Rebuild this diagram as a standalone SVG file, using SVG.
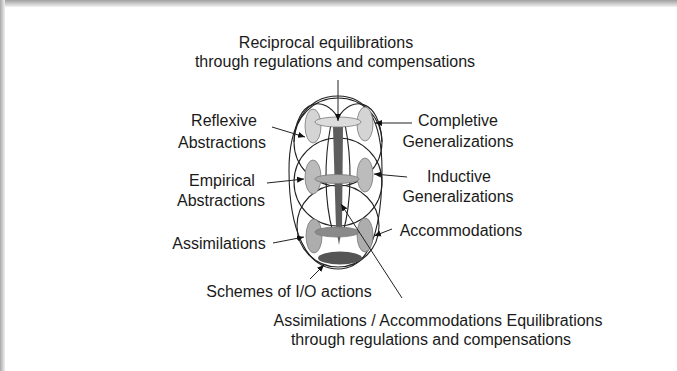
<svg xmlns="http://www.w3.org/2000/svg" width="677" height="371" viewBox="0 0 677 371">
<defs>
<linearGradient id="gTop" x1="0" y1="0" x2="0" y2="1"><stop offset="0" stop-color="#a0a0a0"/><stop offset="1" stop-color="#f2f2f2"/></linearGradient>
<linearGradient id="gLeft" x1="0" y1="0" x2="1" y2="0"><stop offset="0" stop-color="#a8a8a8"/><stop offset="1" stop-color="#f0f0f0"/></linearGradient>
<marker id="ah" markerWidth="8" markerHeight="8" refX="7" refY="4" orient="auto" markerUnits="userSpaceOnUse"><path d="M0,1 L7,4 L0,7 Z" fill="#111"/></marker>
<style>
text{font-family:"Liberation Sans",Arial,sans-serif;font-size:16px;fill:#1a1a1a;text-anchor:middle}
.ln{fill:none;stroke:#222;stroke-width:1.1}
.ar{fill:none;stroke:#222;stroke-width:1;marker-end:url(#ah)}
.e{stroke:#777;stroke-width:0.8}
</style>
</defs>
<rect width="677" height="371" fill="#fff"/>
<rect x="0" y="0" width="677" height="7" fill="url(#gTop)"/>
<rect x="0" y="0" width="5" height="371" fill="url(#gLeft)"/>

<g id="structure">
<path class="ln" d="M338,96 C370,96 382,125 382,170 C382,230 370,269 338,269 C306,269 289,230 289,170 C289,125 306,96 338,96 Z"/>
<circle class="ln" cx="338" cy="142" r="44"/>
<circle class="ln" cx="338" cy="182" r="44"/>
<circle class="ln" cx="338" cy="226" r="41"/>
<path class="ln" d="M338,118 C325,95 296,98 294,142"/>
<path class="ln" d="M338,118 C351,95 380,98 382,142"/>
<path class="ln" d="M331,124 C324,160 324,200 333,233"/>
<path class="ln" d="M345,124 C352,160 352,200 343,233"/>
</g>

<g id="side-ellipses">
<ellipse class="e" cx="313" cy="126" rx="8" ry="17" fill="#d4d4d4"/>
<ellipse class="e" cx="365" cy="124" rx="8" ry="17" fill="#d4d4d4"/>
<ellipse class="e" cx="313" cy="177" rx="8" ry="17" fill="#bcbcbc"/>
<ellipse class="e" cx="365" cy="175" rx="8" ry="17" fill="#bcbcbc"/>
<ellipse class="e" cx="314" cy="236" rx="8" ry="17" fill="#adadad"/>
<ellipse class="e" cx="365" cy="235" rx="8" ry="17" fill="#adadad"/>
</g>

<g id="axis">
<path d="M333,127 L343,127 L342,228 L339,245 L336,228 Z" fill="#5e5e5e"/>
<ellipse class="e" cx="338" cy="122" rx="23" ry="5" fill="#dcdcdc"/>
<ellipse class="e" cx="337" cy="179" rx="22" ry="4.5" fill="#ababab"/>
<ellipse class="e" cx="337" cy="232" rx="22" ry="5" fill="#8a8a8a"/>
<ellipse cx="340" cy="258" rx="22" ry="6.5" fill="#555"/>
</g>

<g id="connectors">
<line class="ar" x1="338" y1="80" x2="338" y2="121"/>
<line class="ar" x1="272" y1="127" x2="305" y2="137"/>
<line class="ar" x1="412" y1="123" x2="375" y2="123"/>
<line class="ar" x1="267" y1="183" x2="304" y2="179"/>
<line class="ar" x1="407" y1="177" x2="374" y2="174"/>
<line class="ar" x1="273" y1="243" x2="304" y2="237"/>
<line class="ar" x1="392" y1="229" x2="374" y2="236"/>
<line class="ar" x1="310" y1="279" x2="324" y2="265"/>
<line class="ar" x1="402" y1="298" x2="341" y2="204"/>
</g>

<g id="label-top"><text x="326" y="48">Reciprocal equilibrations</text><text x="335" y="67">through regulations and compensations</text></g>
<g id="label-reflexive"><text x="224" y="126">Reflexive</text><text x="222" y="148">Abstractions</text></g>
<g id="label-empirical"><text x="222" y="186">Empirical</text><text x="221" y="206">Abstractions</text></g>
<g id="label-assim"><text x="219" y="249">Assimilations</text></g>
<g id="label-completive"><text x="458" y="126">Completive</text><text x="458" y="147">Generalizations</text></g>
<g id="label-inductive"><text x="459" y="182">Inductive</text><text x="458" y="202">Generalizations</text></g>
<g id="label-accom"><text x="461" y="236">Accommodations</text></g>
<g id="label-schemes"><text x="289" y="297">Schemes of I/O actions</text></g>
<g id="label-bottom"><text x="438" y="326">Assimilations / Accommodations Equilibrations</text><text x="431" y="345">through regulations and compensations</text></g>
</svg>
